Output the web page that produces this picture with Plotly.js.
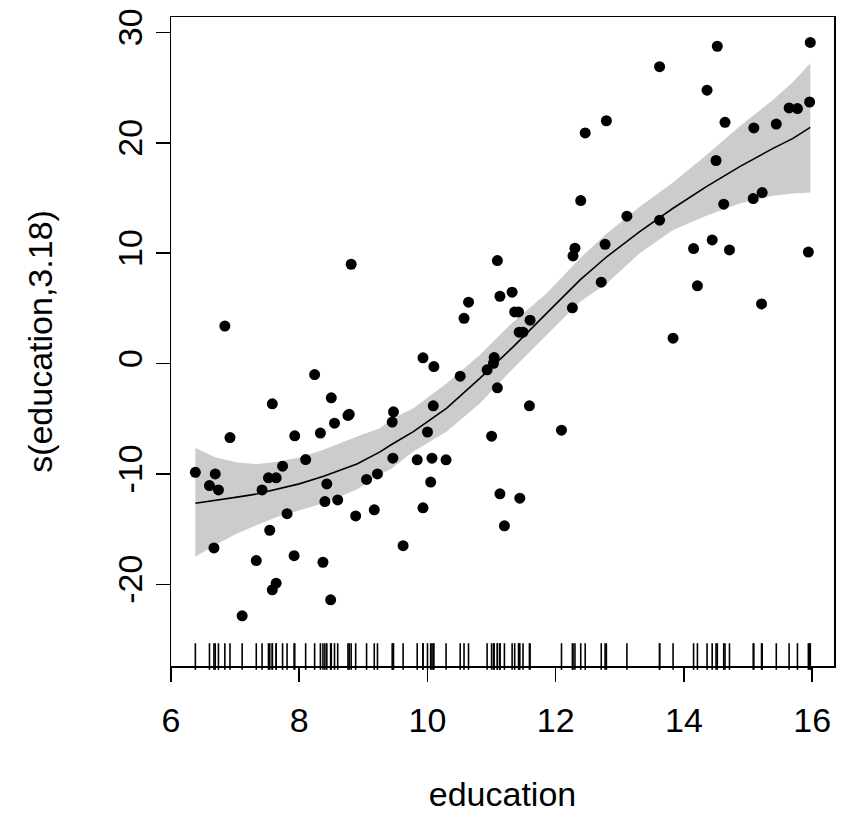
<!DOCTYPE html>
<html>
<head>
<meta charset="utf-8">
<script src="https://cdn.plot.ly/plotly-3.0.1.min.js"></script>
<style>html,body{margin:0;padding:0;background:#fff;}#chart{width:842px;height:819px;}</style>
</head>
<body>
<div id="chart"></div>
<script>
// Education values (x) and partial residuals (y)
const eduX = [13.11,12.26,12.77,11.42,14.62,15.64,15.09,15.44,14.52,14.64,12.39,12.30,13.83,14.44,14.36,14.21,15.77,14.15,15.22,14.50,15.97,13.62,15.08,15.96,15.94,14.71,12.46,9.45,13.62,15.21,12.79,11.09,12.71,11.44,11.59,11.49,11.32,10.64,11.36,9.17,12.09,11.04,9.22,10.07,10.51,11.20,11.13,11.43,11.00,9.84,11.13,10.05,9.62,9.93,11.60,11.09,11.03,9.47,10.93,7.74,8.50,10.57,9.46,7.33,7.11,7.58,6.84,8.60,8.88,7.54,7.64,7.64,7.42,6.69,6.74,10.09,8.81,8.40,7.92,8.43,8.78,8.76,10.29,6.38,8.10,10.10,6.67,9.05,9.93,8.24,6.92,6.60,7.81,8.33,7.52,12.27,8.49,7.58,7.93,8.37,10.00,8.55];
const residY = [13.35,5.05,10.8,4.68,14.44,23.16,21.35,21.7,28.75,21.86,14.77,10.45,2.3,11.2,24.77,7.04,23.1,10.42,15.49,18.4,29.1,26.9,14.95,23.7,10.1,10.3,20.9,-5.3,12.99,5.4,22.0,9.33,7.37,-12.2,-3.83,2.84,6.47,5.56,4.68,-13.25,-6.03,0.54,-10.0,-8.57,-1.14,-14.7,6.1,2.84,-6.58,-8.72,-11.8,-10.74,-16.5,-13.07,3.93,-2.2,0.03,-4.37,-0.57,-9.3,-3.1,4.1,-8.57,-17.85,-22.85,-3.65,3.4,-12.35,-13.8,-15.1,-10.35,-19.9,-11.45,-10.0,-11.45,-3.83,9.0,-12.5,-17.4,-10.9,-4.6,-4.7,-8.72,-9.85,-8.7,-0.27,-16.7,-10.5,0.52,-1.0,-6.7,-11.05,-13.6,-6.3,-10.35,9.75,-21.4,-20.5,-6.55,-18.0,-6.2,-5.4];

// Smooth fit and +/- 2 SE band
const fitX  = [6.38, 6.70, 7.03, 7.35, 7.65, 8.00, 8.38, 8.90, 9.26, 9.42, 9.78, 10.30, 10.82, 11.34, 11.86, 12.38, 12.80, 13.31, 13.83, 14.35, 14.87, 15.39, 15.70, 15.97];
const fitY  = [-12.65, -12.4, -12.1, -11.8, -11.4, -10.9, -10.2, -9.1, -8.0, -7.4, -6.16, -4.04, -1.32, 1.54, 4.57, 7.58, 9.7, 11.96, 14.07, 16.03, 17.84, 19.5, 20.4, 21.4];
const upper = [-7.66, -8.5, -8.97, -9.1, -8.9, -8.5, -7.8, -6.6, -5.85, -5.1, -4.04, -1.78, 0.79, 3.8, 6.38, 9.55, 11.8, 14.2, 16.4, 18.9, 21.5, 23.9, 25.5, 27.2];
const lower = [-17.5, -16.4, -15.4, -14.6, -13.9, -13.3, -12.65, -11.4, -10.0, -9.6, -7.97, -6.16, -3.59, -0.42, 2.6, 5.6, 7.28, 10.0, 12.1, 13.4, 14.5, 15.2, 15.4, 15.5];

const xTicks = [6, 8, 10, 12, 14, 16];
const yTicks = [-20, -10, 0, 10, 20, 30];
const xRange = [6.0, 16.34];
const yRange = [-27.4, 31.4];

const rugY = eduX.map(() => yRange[0] + (yRange[1] - yRange[0]) * 0.0146);

const font = {family: 'Liberation Sans, Arial, sans-serif', size: 34, color: '#000'};

const traces = [
  {x: fitX.concat(fitX.slice().reverse()), y: upper.concat(lower.slice().reverse()),
   type: 'scatter', mode: 'lines', fill: 'toself', fillcolor: '#cccccc',
   line: {width: 0, color: '#cccccc'}, hoverinfo: 'skip'},
  {x: fitX, y: fitY, type: 'scatter', mode: 'lines', line: {color: '#000', width: 1.6}},
  {x: eduX, y: residY, type: 'scatter', mode: 'markers',
   marker: {symbol: 'circle', size: 11, color: '#000'}},
  {x: eduX, y: rugY, type: 'scatter', mode: 'markers', cliponaxis: false,
   marker: {symbol: 'line-ns-open', size: 19, color: '#000', line: {width: 1.6, color: '#000'}}}
];

const axisCommon = {
  showline: true, mirror: true, linecolor: '#000', linewidth: 1.5,
  ticks: 'outside', ticklen: 14, tickwidth: 1.5, tickcolor: '#000',
  showgrid: false, zeroline: false, tickfont: font, automargin: false
};

const layout = {
  width: 842, height: 819,
  margin: {l: 171, r: 8, t: 17, b: 153},
  paper_bgcolor: '#fff', plot_bgcolor: '#fff',
  showlegend: false, font: font,
  xaxis: Object.assign({}, axisCommon, {
    range: xRange, tickvals: xTicks, ticktext: xTicks.map(String),
    ticklabelstandoff: 10,
    title: {text: 'education', font: font, standoff: 44}
  }),
  yaxis: Object.assign({}, axisCommon, {
    range: yRange, tickvals: yTicks, ticktext: yTicks.map(String), tickangle: -90,
    title: {text: 's(education,3.18)', font: font, standoff: 48}
  })
};

Plotly.newPlot('chart', traces, layout, {displayModeBar: false, staticPlot: true});
</script>
</body>
</html>
